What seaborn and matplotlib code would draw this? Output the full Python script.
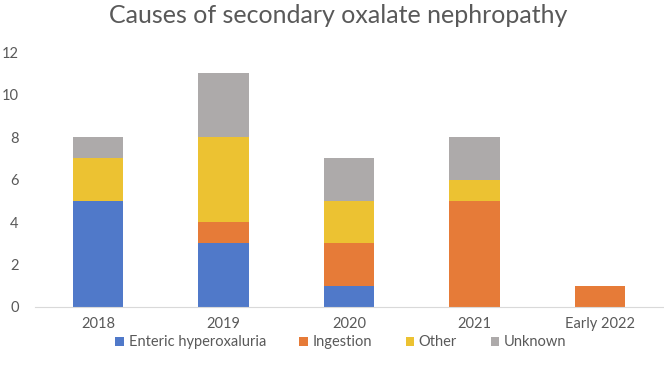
import numpy as np
import seaborn as sns
from matplotlib import pyplot as plt

sns.set_style("white")
plt.rcParams["font.family"] = ["Lato", "DejaVu Sans"]

years = ["2018", "2019", "2020", "2021", "Early 2022"]
enteric = [5, 3, 1, 0, 0]
ingestion = [0, 1, 2, 5, 1]
other = [2, 4, 2, 1, 0]
unknown = [1, 3, 2, 2, 0]

PALETTE = {
    "Enteric hyperoxaluria": "#5079C9",
    "Ingestion": "#E67B38",
    "Other": "#ECC232",
    "Unknown": "#ADAAAA",
}
series = {
    "Enteric hyperoxaluria": enteric,
    "Ingestion": ingestion,
    "Other": other,
    "Unknown": unknown,
}

TEXT_GRAY = "#595959"

fig = plt.figure(figsize=(6.64, 3.78), dpi=100)
ax = fig.add_axes([0.053, 0.188, 0.945, 0.674])

# stack by drawing cumulative totals, tallest first
cum = np.cumsum(np.array([series[k] for k in PALETTE]), axis=0)
names = list(PALETTE)
for i in reversed(range(len(names))):
    sns.barplot(
        x=years,
        y=cum[i],
        color=PALETTE[names[i]],
        width=0.4,
        saturation=1,
        linewidth=0,
        label=names[i],
        ax=ax,
    )

ax.set_xlim(-0.5, 4.5)
ax.set_ylim(0, 12)
ax.set_yticks(range(0, 13, 2))
ax.tick_params(axis="both", length=0, labelsize=10.5, colors=TEXT_GRAY)
ax.tick_params(axis="x", pad=7)
ax.tick_params(axis="y", pad=12)
sns.despine(ax=ax, left=True)
ax.spines["bottom"].set_color("#D9D9D9")
ax.set_xlabel("")
ax.set_ylabel("")

handles, labels = ax.get_legend_handles_labels()
order = [labels.index(n) for n in names]
ax.legend(
    [handles[i] for i in order],
    [labels[i] for i in order],
    loc="upper center",
    bbox_to_anchor=(0.487, -0.06),
    ncol=4,
    frameon=False,
    fontsize=10.5,
    labelcolor=TEXT_GRAY,
    handlelength=0.6,
    handleheight=0.6,
    handletextpad=0.3,
    columnspacing=2.3,
)

fig.suptitle("Causes of secondary oxalate nephropathy", x=0.51, y=0.99,
             fontsize=18, color=TEXT_GRAY)

plt.savefig("out.png", dpi=100)
